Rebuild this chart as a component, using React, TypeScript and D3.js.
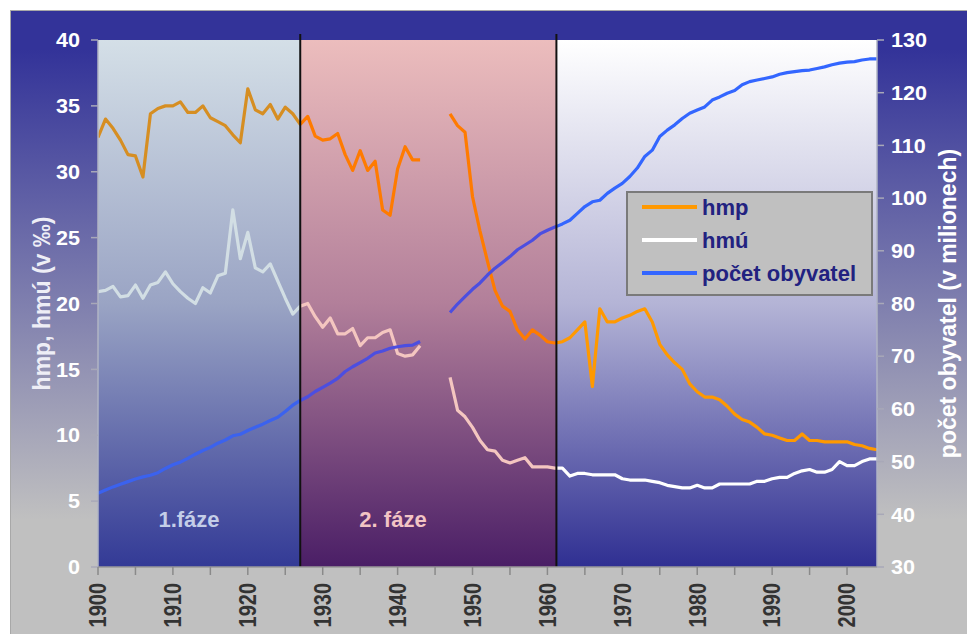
import { scaleLinear, line, range } from "d3";

// years on the category axis (1944-1946 have no data)
const years = range(1900, 2005);

// hmp – hrubá míra porodnosti (‰)
const hmp = [
  32.6, 34.0, 33.3, 32.4, 31.3, 31.2, 29.6, 34.4, 34.8, 35.0,
  35.0, 35.3, 34.5, 34.5, 35.0, 34.1, 33.8, 33.5, 32.8, 32.2,
  36.3, 34.7, 34.4, 35.1, 34.0, 34.9, 34.4, 33.6, 34.2, 32.7,
  32.4, 32.5, 32.9, 31.3, 30.1, 31.6, 30.1, 30.8, 27.1, 26.7,
  30.2, 31.9, 30.9, 30.9, null, null, null, 34.4, 33.5, 33.0,
  28.1, 25.5, 23.2, 21.0, 19.8, 19.4, 18.0, 17.3, 18.0, 17.6,
  17.1, 17.0, 17.1, 17.4, 18.0, 18.6, 13.7, 19.6, 18.6, 18.6,
  18.9, 19.1, 19.4, 19.6, 18.6, 16.9, 16.1, 15.5, 15.0, 13.9,
  13.3, 12.9, 12.9, 12.7, 12.2, 11.6, 11.2, 11.0, 10.6, 10.1,
  10.0, 9.8, 9.6, 9.6, 10.1, 9.6, 9.6, 9.5, 9.5, 9.5,
  9.5, 9.3, 9.2, 9.0, 8.9,
];

// hmú – hrubá míra úmrtnosti (‰)
const hmu = [
  20.9, 21.0, 21.3, 20.5, 20.6, 21.4, 20.4, 21.4, 21.6, 22.4,
  21.5, 20.9, 20.4, 20.0, 21.2, 20.8, 22.1, 22.3, 27.1, 23.4,
  25.4, 22.7, 22.4, 23.0, 21.7, 20.4, 19.2, 19.8, 20.0, 19.0,
  18.2, 18.9, 17.7, 17.7, 18.1, 16.8, 17.4, 17.4, 17.8, 18.0,
  16.2, 16.0, 16.1, 16.8, null, null, null, 14.4, 11.9, 11.4,
  10.6, 9.6, 8.9, 8.8, 8.1, 7.9, 8.1, 8.3, 7.6, 7.6,
  7.6, 7.5, 7.5, 6.9, 7.1, 7.1, 7.0, 7.0, 7.0, 7.0,
  6.7, 6.6, 6.6, 6.6, 6.5, 6.4, 6.2, 6.1, 6.0, 6.0,
  6.2, 6.0, 6.0, 6.3, 6.3, 6.3, 6.3, 6.3, 6.5, 6.5,
  6.7, 6.8, 6.8, 7.1, 7.3, 7.4, 7.2, 7.2, 7.4, 8.0,
  7.7, 7.7, 8.0, 8.2, 8.2,
];

// počet obyvatel (miliony)
const obyvatel = [
  44.0, 44.6, 45.2, 45.7, 46.2, 46.7, 47.1, 47.4, 47.9, 48.7,
  49.4, 49.9, 50.6, 51.4, 52.1, 52.7, 53.5, 54.1, 54.9, 55.2,
  55.9, 56.5, 57.1, 57.8, 58.4, 59.5, 60.7, 61.6, 62.3, 63.3,
  64.1, 64.9, 65.8, 67.1, 68.0, 68.8, 69.6, 70.6, 71.0, 71.5,
  71.8, 72.0, 72.1, 72.8, null, null, null, 78.3, 79.9, 81.3,
  82.7, 83.9, 85.4, 86.7, 87.8, 88.9, 90.2, 91.1, 92.0, 93.2,
  93.9, 94.5, 95.1, 95.8, 97.1, 98.4, 99.3, 99.6, 100.9, 101.9,
  102.8, 104.1, 105.7, 107.9, 109.1, 111.7, 112.9, 113.9, 115.1, 116.1,
  116.7, 117.3, 118.6, 119.2, 119.9, 120.4, 121.5, 122.1, 122.4, 122.7,
  123.0, 123.5, 123.8, 124.0, 124.2, 124.3, 124.6, 124.9, 125.3, 125.6,
  125.8, 125.9, 126.2, 126.4, 126.4,
];

const leftTicks = [0, 5, 10, 15, 20, 25, 30, 35, 40];
const rightTicks = [30, 40, 50, 60, 70, 80, 90, 100, 110, 120, 130];
const xTickYears = range(1900, 2001, 5);
const xLabelYears = range(1900, 2001, 10);
const phaseBreaks = [1900, 1927, 1961.2, 2004];
const phaseNames = ["1.fáze", "2. fáze"];
const legendNames = ["hmp", "hmú", "počet obyvatel"];

const W = 967;
const H = 634;
const FONT = "'Liberation Sans', Arial, sans-serif";

export default function App() {
  const left = 98, right = 877, top = 40, bottom = 567;
  const x = scaleLinear().domain([1900, 2004]).range([left, right]);
  const yL = scaleLinear().domain([0, 40]).range([bottom, top]);
  const yR = scaleLinear().domain([30, 130]).range([bottom, top]);

  const path = (vals: (number | null)[], y: any) =>
    line<number | null>()
      .defined((d) => d != null)
      .x((_, i) => x(years[i]))
      .y((d) => y(d as number))(vals) || "";

  const series = [
    { d: path(hmp, yL), colors: ["#d68e22", "#ff7b00", "#ff9900"] },
    { d: path(hmu, yL), colors: ["#d2dee4", "#f4c6c0", "#ffffff"] },
    { d: path(obyvatel, yR), colors: ["#3b62ee", "#4c4ee0", "#3366ff"] },
  ];

  const phaseGrad = [
    [["0", "#d4dfe7"], ["0.5", "#9aa4c4"], ["1", "#333a96"]],
    [["0", "#ecbdbd"], ["0.5", "#b27f9a"], ["1", "#4a1e66"]],
    [["0", "#ffffff"], ["0.5", "#b4b4d6"], ["1", "#2f2f92"]],
  ];
  const phaseLabelColor = ["#c4cee8", "#f2c4c4"];
  const phaseLabelX = [189, 393];

  const legendColors = ["#ff9900", "#ffffff", "#3366ff"];

  return (
    <svg
      width={W}
      height={H}
      style={{ position: "absolute", left: 0, top: 0, fontFamily: FONT }}
    >
      <defs>
        <linearGradient id="outer" gradientUnits="userSpaceOnUse" x1={0} y1={50} x2={0} y2={520}>
          <stop offset="0" stopColor="#333399" />
          <stop offset="1" stopColor="#c0c0c0" />
        </linearGradient>
        {phaseGrad.map((stops, i) => (
          <linearGradient key={i} id={`ph${i}`} x1={0} y1={0} x2={0} y2={1}>
            {stops.map(([o, c]) => (
              <stop key={o} offset={o} stopColor={c} />
            ))}
          </linearGradient>
        ))}
        {[0, 1, 2].map((i) => (
          <clipPath key={i} id={`clip${i}`}>
            <rect
              x={x(phaseBreaks[i])}
              y={0}
              width={x(phaseBreaks[i + 1]) - x(phaseBreaks[i]) + (i === 2 ? 4 : 0)}
              height={H}
            />
          </clipPath>
        ))}
      </defs>

      <rect x={0} y={0} width={W} height={H} fill="#ffffff" />
      <rect x={10.5} y={10.5} width={W} height={H} fill="url(#outer)" stroke="#a8a8a8" />

      {/* phase backgrounds */}
      {[0, 1, 2].map((i) => (
        <rect
          key={i}
          x={x(phaseBreaks[i])}
          y={top}
          width={x(phaseBreaks[i + 1]) - x(phaseBreaks[i])}
          height={bottom - top}
          fill={`url(#ph${i})`}
        />
      ))}

      {/* phase labels */}
      {phaseNames.map((n, i) => (
        <text
          key={n}
          x={phaseLabelX[i]}
          y={527}
          textAnchor="middle"
          fontSize={22}
          fontWeight="bold"
          fill={phaseLabelColor[i]}
        >
          {n}
        </text>
      ))}

      {/* series, recoloured per phase */}
      {[0, 1, 2].map((p) => (
        <g key={p} clipPath={`url(#clip${p})`}>
          {series.map((s, k) => (
            <path
              key={k}
              d={s.d}
              fill="none"
              stroke={s.colors[p]}
              strokeWidth={3.2}
              strokeLinejoin="round"
            />
          ))}
        </g>
      ))}

      {/* phase dividers */}
      {phaseBreaks.slice(1, 3).map((b) => (
        <line key={b} x1={x(b)} x2={x(b)} y1={34} y2={bottom} stroke="#111" strokeWidth={2} />
      ))}

      {/* left axis */}
      <line x1={left} x2={left} y1={top} y2={bottom} stroke="#b0b4c4" strokeWidth={1.5} />
      {leftTicks.map((t) => (
        <g key={t}>
          <line x1={left - 7} x2={left} y1={yL(t)} y2={yL(t)} stroke="#a8a8b8" strokeWidth={1.5} />
          <text
            transform={`translate(80,${yL(t)}) scale(1.08,1)`}
            dy="0.36em"
            textAnchor="end"
            fontSize={20}
            fontWeight="bold"
            fill="#ffffff"
          >
            {t}
          </text>
        </g>
      ))}

      {/* right axis */}
      <line x1={right} x2={right} y1={top} y2={bottom} stroke="#b0b4c4" strokeWidth={1.5} />
      {rightTicks.map((t) => (
        <g key={t}>
          <line x1={right} x2={right + 7} y1={yR(t)} y2={yR(t)} stroke="#a8a8b8" strokeWidth={1.5} />
          <text
            transform={`translate(891,${yR(t)}) scale(1.08,1)`}
            dy="0.36em"
            textAnchor="start"
            fontSize={20}
            fontWeight="bold"
            fill="#ffffff"
          >
            {t}
          </text>
        </g>
      ))}

      {/* bottom axis */}
      <line x1={left} x2={right} y1={bottom} y2={bottom} stroke="#9a9a9a" strokeWidth={1.5} />
      {xTickYears.map((yr) => (
        <line key={yr} x1={x(yr)} x2={x(yr)} y1={bottom} y2={bottom + 8} stroke="#8a8a8a" strokeWidth={1.5} />
      ))}
      {xLabelYears.map((yr) => (
        <text
          key={yr}
          transform={`translate(${x(yr)},583) scale(1.15,1) rotate(-90)`}
          dy="0.36em"
          textAnchor="end"
          fontSize={20}
          fontWeight="bold"
          fill="#333333"
        >
          {yr}
        </text>
      ))}

      {/* axis titles */}
      <text
        transform={`translate(42,${(top + bottom) / 2}) rotate(-90)`}
        dy="0.36em"
        textAnchor="middle"
        fontSize={23}
        fontWeight="bold"
        fill="#eeeef6"
      >
        hmp, hmú (v ‰)
      </text>
      <text
        transform={`translate(948,${(top + bottom) / 2}) rotate(-90)`}
        dy="0.36em"
        textAnchor="middle"
        fontSize={23}
        fontWeight="bold"
        fill="#ffffff"
      >
        počet obyvatel (v milionech)
      </text>

      {/* legend */}
      <rect x={627} y={192} width={245} height={103} fill="#c0c0c0" stroke="#7a7a7a" strokeWidth={2} />
      {legendNames.map((n, i) => {
        const ry = 207 + i * 33;
        return (
          <g key={n}>
            <line x1={642} x2={697} y1={ry} y2={ry} stroke={legendColors[i]} strokeWidth={4} />
            <text x={702} y={ry + 8} fontSize={22} fontWeight="bold" fill="#222280">
              {n}
            </text>
          </g>
        );
      })}
    </svg>
  );
}
